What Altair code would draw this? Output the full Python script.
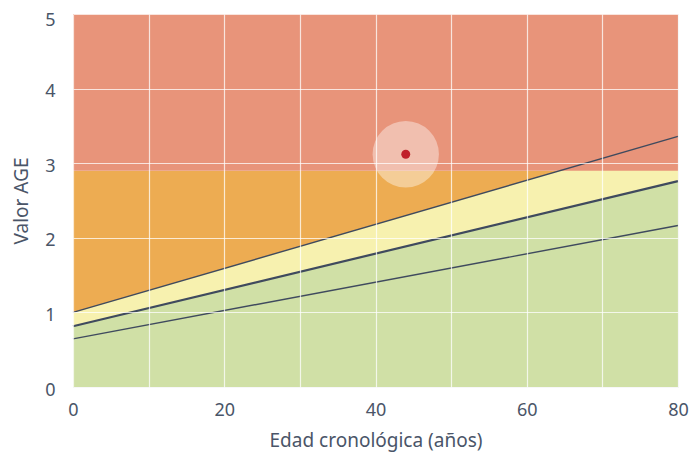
import altair as alt
import pandas as pd

age = [0, 80]
upper = [1.0, 3.36]
middle = [0.815, 2.76]
lower = [0.645, 2.165]
threshold = [2.9, 2.9]
top = [5, 5]
point_x = [44]
point_y = [3.12]

df = pd.DataFrame({"x": age, "upper": upper, "middle": middle, "lower": lower,
                   "thr": threshold, "top": top, "zero": [0, 0]})
pt = pd.DataFrame({"x": point_x, "y": point_y})

xs = alt.Scale(domain=[0, 80], nice=False)
ys = alt.Scale(domain=[0, 5], nice=False)
font = "Noto Sans"
axcol = "#4a5568"

xaxis = alt.Axis(values=list(range(0, 81, 10)), labelExpr="datum.value % 20 == 0 ? datum.label : ''",
                 format="d", labelFlush=False,
                 title="Edad cronológica (años)", grid=True, gridColor="white", gridOpacity=0.75,
                 gridWidth=1.2, domain=False, ticks=False, labelPadding=14, titlePadding=12,
                 labelFontSize=18, titleFontSize=19, labelColor=axcol, titleColor=axcol,
                 labelFont=font, titleFont=font, titleFontWeight="normal", zindex=1)
yaxis = alt.Axis(values=[0, 1, 2, 3, 4, 5], format="d", title="Valor AGE", grid=True, gridColor="white",
                 gridOpacity=0.75, gridWidth=1.2, domain=False, ticks=False, labelPadding=18,
                 labelOffset={"condition": {"test": "datum.value == 5", "value": 6}, "value": 3},
                 labelFlush=False,
                 titlePadding=13, labelFontSize=18, titleFontSize=19, labelColor=axcol,
                 titleColor=axcol, labelFont=font, titleFont=font, titleFontWeight="normal", zindex=1)

base = alt.Chart(df)

orange = base.mark_area(color="#edac52", opacity=1).encode(
    x=alt.X("x:Q", scale=xs, axis=xaxis), y=alt.Y("zero:Q", scale=ys, axis=yaxis), y2="thr:Q")
yellow = base.mark_area(color="#f7f1af").encode(x=alt.X("x:Q", scale=xs), y=alt.Y("zero:Q", scale=ys), y2="upper:Q")
green = base.mark_area(color="#d0e0a6").encode(x=alt.X("x:Q", scale=xs), y=alt.Y("zero:Q", scale=ys), y2="middle:Q")
red = base.mark_area(color="#e8947a").encode(x=alt.X("x:Q", scale=xs), y=alt.Y("thr:Q", scale=ys), y2="top:Q")

lcol = "#3f4a5e"
l_up = base.mark_line(color=lcol, strokeWidth=1.4).encode(x=alt.X("x:Q", scale=xs), y=alt.Y("upper:Q", scale=ys))
l_mid = base.mark_line(color=lcol, strokeWidth=2.2).encode(x=alt.X("x:Q", scale=xs), y=alt.Y("middle:Q", scale=ys))
l_low = base.mark_line(color=lcol, strokeWidth=1.4).encode(x=alt.X("x:Q", scale=xs), y=alt.Y("lower:Q", scale=ys))

halo = alt.Chart(pt).mark_circle(color="white", opacity=0.4, size=4400).encode(
    x=alt.X("x:Q", scale=xs), y=alt.Y("y:Q", scale=ys))
dot = alt.Chart(pt).mark_circle(color="#c0202a", opacity=1, size=80).encode(
    x=alt.X("x:Q", scale=xs), y=alt.Y("y:Q", scale=ys))

chart = alt.layer(orange, yellow, green, red, l_up, l_mid, l_low, halo, dot).properties(
    width=605, height=373, autosize=alt.AutoSizeParams(type="none"),
    padding={"left": 65, "top": 6, "right": 14, "bottom": 71}
).configure_view(stroke=None).configure(background="white")

chart.save("out.html", embed_options={"renderer": "svg", "actions": False})
